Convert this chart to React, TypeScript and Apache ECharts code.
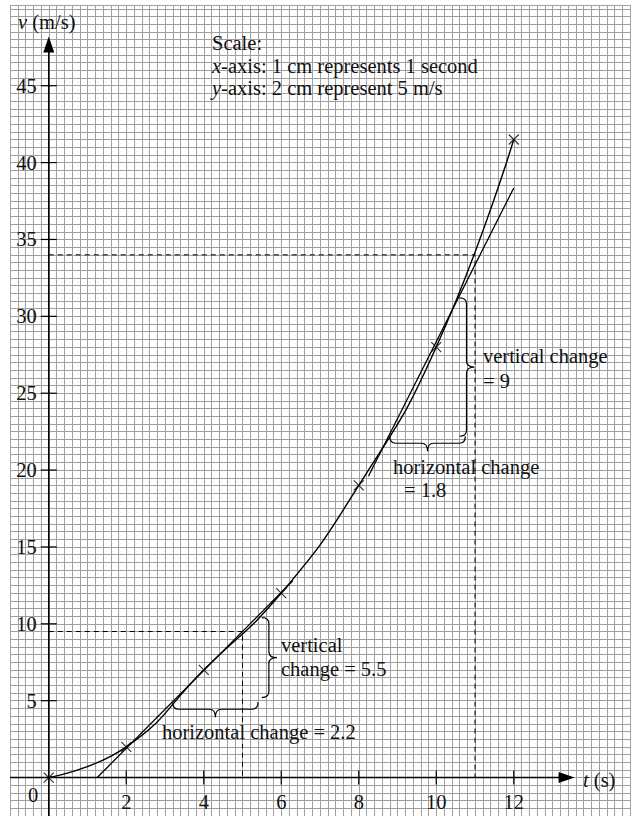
import React, { useEffect, useRef } from "react";
import * as echarts from "echarts";

// ---- data ----
const times = [0, 2, 4, 6, 8, 10, 12];
const speeds = [0, 2, 7, 12, 19, 28, 41.5];
const xTicks = [2, 4, 6, 8, 10, 12];
const yTicks = [5, 10, 15, 20, 25, 30, 35, 40, 45];
const tangentAt5 = [[1.25, 0], [6.3, 12.8]];
const tangentAt11 = [[8.25, 19.6], [12.0, 38.35]];
const guideAt5 = [[0, 9.5], [5, 9.5], [5, 0]];
const guideAt11 = [[0, 34], [11, 34], [11, 0]];
const braceFrom = [[3.2, 4.9], [5.5, 5.2], [8.8, 22.2], [10.6, 22.2]];
const braceTo = [[5.4, 4.9], [5.5, 10.4], [10.75, 22.2], [10.6, 31.2]];
const xRange = [-1, 15];
const yRange = [-2.5, 50.25];
const xArrowTip = 13.57;
const yArrowTip = 48.2;

const FONT = '"Liberation Serif", "Times New Roman", serif';
const FS = 20.5;
const INK = "#111";

function bracePath(p1: number[], p2: number[]) {
  const dx = p2[0] - p1[0];
  const dy = p2[1] - p1[1];
  const L = Math.sqrt(dx * dx + dy * dy);
  const u = [dx / L, dy / L];
  const n = [-u[1], u[0]];
  const P = (a: number, b: number) =>
    `${(p1[0] + u[0] * a + n[0] * b).toFixed(2)} ${(p1[1] + u[1] * a + n[1] * b).toFixed(2)}`;
  const r = Math.min(6, L / 4);
  const body = 7;
  const tip = 15;
  const h = L / 2;
  return (
    `M${P(0, 0)} Q${P(0, body)} ${P(r, body)} L${P(h - r, body)} Q${P(h, body)} ${P(h, tip)} ` +
    `Q${P(h, body)} ${P(h + r, body)} L${P(L - r, body)} Q${P(L, body)} ${P(L, 0)}`
  );
}

function txt(x: number, y: number, text: string, extra: any = {}) {
  return {
    type: "text",
    x,
    y,
    z: 50,
    style: {
      text,
      fill: INK,
      fontFamily: FONT,
      fontSize: FS,
      verticalAlign: "middle",
      align: "left",
      rich: {
        i: { fontFamily: FONT, fontSize: FS, fontStyle: "italic", fill: INK },
      },
      ...extra,
    },
  };
}

export default function App() {
  const ref = useRef<HTMLDivElement>(null);
  useEffect(() => {
    if (!ref.current) return;
    const chart = echarts.init(ref.current, null, { renderer: "svg" });
    const gridLine = { show: true, lineStyle: { color: "#a0a0a0", width: 1 } };
    const option: any = {
      animation: false,
      backgroundColor: "#fff",
      grid: { left: 10, top: 5, width: 620, height: 813.4, containLabel: false },
      xAxis: {
        type: "value",
        min: xRange[0],
        max: xRange[1],
        interval: 0.2,
        axisLine: { show: false },
        axisTick: { show: false },
        axisLabel: { show: false },
        splitLine: gridLine,
      },
      yAxis: {
        type: "value",
        min: yRange[0],
        max: yRange[1],
        interval: 0.5,
        axisLine: { show: false },
        axisTick: { show: false },
        axisLabel: { show: false },
        splitLine: gridLine,
      },
      series: [
        {
          type: "line",
          data: [[xRange[0], 0], [xArrowTip - 0.2, 0]],
          showSymbol: false,
          lineStyle: { color: "#000", width: 1.5 },
          silent: true,
          z: 5,
        },
        {
          type: "line",
          data: [[0, yRange[0]], [0, yArrowTip - 0.5]],
          showSymbol: false,
          lineStyle: { color: "#000", width: 1.5 },
          silent: true,
          z: 5,
        },
        {
          type: "custom",
          data: [[xArrowTip, 0, 0], [0, yArrowTip, 1]],
          z: 6,
          renderItem: (params: any, api: any) => {
            const p = api.coord([api.value(0), api.value(1)]);
            const dir = api.value(2);
            const pts =
              dir === 0
                ? [[p[0], p[1]], [p[0] - 16, p[1] - 5.5], [p[0] - 16, p[1] + 5.5]]
                : [[p[0], p[1]], [p[0] - 5.5, p[1] + 16], [p[0] + 5.5, p[1] + 16]];
            return { type: "polygon", shape: { points: pts }, style: { fill: "#000" } };
          },
        },
        {
          type: "custom",
          data: xTicks.map((t) => [t, 0]),
          z: 6,
          renderItem: (params: any, api: any) => {
            const p = api.coord([api.value(0), api.value(1)]);
            return {
              type: "group",
              children: [
                {
                  type: "line",
                  shape: { x1: p[0], y1: p[1] - 7, x2: p[0], y2: p[1] + 7 },
                  style: { stroke: "#000", lineWidth: 1.2 },
                },
                {
                  type: "text",
                  x: p[0],
                  y: p[1] + 24,
                  style: {
                    text: String(api.value(0)),
                    fill: INK,
                    fontFamily: FONT,
                    fontSize: FS,
                    align: "center",
                    verticalAlign: "middle",
                  },
                },
              ],
            };
          },
        },
        {
          type: "custom",
          data: yTicks.map((v) => [0, v]),
          z: 6,
          renderItem: (params: any, api: any) => {
            const p = api.coord([api.value(0), api.value(1)]);
            return {
              type: "group",
              children: [
                {
                  type: "line",
                  shape: { x1: p[0] - 8, y1: p[1], x2: p[0] + 8, y2: p[1] },
                  style: { stroke: "#000", lineWidth: 1.2 },
                },
                {
                  type: "text",
                  x: p[0] - 12,
                  y: p[1],
                  style: {
                    text: String(api.value(1)),
                    fill: INK,
                    fontFamily: FONT,
                    fontSize: FS,
                    align: "right",
                    verticalAlign: "middle",
                  },
                },
              ],
            };
          },
        },
        ...[guideAt5, guideAt11].map((d) => ({
          type: "line",
          data: d,
          showSymbol: false,
          lineStyle: { color: "#000", width: 1, type: [5, 4] },
          z: 4,
        })),
        ...[tangentAt5, tangentAt11].map((d) => ({
          type: "line",
          data: d,
          showSymbol: false,
          lineStyle: { color: "#000", width: 1.3 },
          z: 7,
        })),
        {
          type: "line",
          data: times.map((t, i) => [t, speeds[i]]),
          smooth: 0.5,
          showSymbol: false,
          lineStyle: { color: "#000", width: 1.4 },
          z: 8,
        },
        {
          type: "scatter",
          data: times.map((t, i) => [t, speeds[i]]),
          symbol: "path://M0 0L10 10M10 0L0 10",
          symbolSize: 10,
          itemStyle: { color: "rgba(0,0,0,0)", borderColor: "#000", borderWidth: 1.2 },
          z: 9,
        },
        {
          type: "custom",
          data: braceFrom.map((f, i) => [f[0], f[1], braceTo[i][0], braceTo[i][1]]),
          z: 9,
          renderItem: (params: any, api: any) => {
            const a = api.coord([api.value(0), api.value(1)]);
            const b = api.coord([api.value(2), api.value(3)]);
            return {
              type: "path",
              shape: { pathData: bracePath(a, b) },
              style: { fill: "none", stroke: "#000", lineWidth: 1.2 },
            };
          },
        },
      ],
      graphic: [
        txt(18, 22, "{i|v} (m/s)"),
        txt(583, 780, "{i|t} (s)"),
        txt(33, 795, "0", { align: "center" }),
        txt(212, 43, "Scale:"),
        txt(212, 66, "{i|x}-axis: 1 cm represents 1 second"),
        txt(212, 88, "{i|y}-axis: 2 cm represent 5 m/s"),
        txt(483, 356, "vertical change"),
        txt(483, 381, "= 9"),
        txt(393, 467, "horizontal change"),
        txt(404, 490, "= 1.8"),
        txt(281, 645, "vertical"),
        txt(281, 669, "change = 5.5"),
        txt(162, 732, "horizontal change = 2.2"),
      ],
    };
    chart.setOption(option);
    return () => chart.dispose();
  }, []);
  return (
    <div
      ref={ref}
      style={{ position: "fixed", left: 0, top: 0, width: 633, height: 816, background: "#fff" }}
    />
  );
}
